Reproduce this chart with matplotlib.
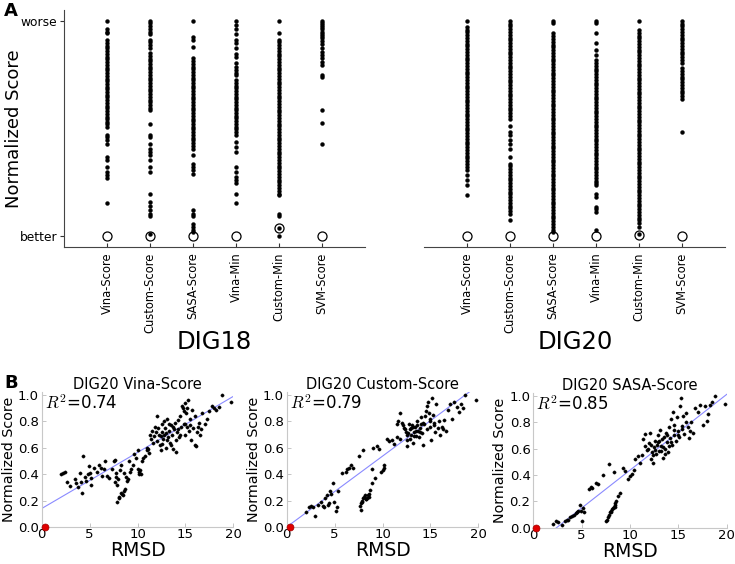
import matplotlib
matplotlib.use('Agg')
import matplotlib.pyplot as plt
import numpy as np

plt.rcParams['font.family'] = ['DejaVu Sans']
plt.rcParams['mathtext.fontset'] = 'cm'

# ---------------- Panel A data ----------------
methods = ['Vina-Score', 'Custom-Score', 'SASA-Score', 'Vina-Min', 'Custom-Min', 'SVM-Score']

d18_vina_score = [1.0, 0.964, 0.949, 0.941, 0.91, 0.897, 0.884, 0.872, 0.859, 0.846, 0.834, 0.821, 0.808, 0.796,
                  0.783, 0.77, 0.758, 0.745, 0.732, 0.72, 0.707, 0.694, 0.682, 0.669, 0.656, 0.644, 0.631, 0.618,
                  0.606, 0.593, 0.58, 0.568, 0.555, 0.542, 0.53, 0.523, 0.508, 0.469, 0.461, 0.446, 0.43, 0.368,
                  0.353, 0.322, 0.299, 0.283, 0.268, 0.156]
d18_custom_score = [1.0, 0.988, 0.975, 0.962, 0.95, 0.937, 0.912, 0.9, 0.887, 0.874, 0.85, 0.837, 0.824, 0.812,
                    0.799, 0.786, 0.774, 0.761, 0.748, 0.736, 0.723, 0.71, 0.698, 0.685, 0.672, 0.66, 0.647, 0.634,
                    0.622, 0.609, 0.596, 0.585, 0.523, 0.469, 0.461, 0.427, 0.407, 0.392, 0.376, 0.353, 0.322, 0.299,
                    0.198, 0.159, 0.139, 0.121, 0.105, 0.093, 0.012]
d18_sasa_score = [1.0, 0.926, 0.913, 0.879, 0.825, 0.812, 0.8, 0.787, 0.774, 0.762, 0.749, 0.736, 0.724, 0.711,
                  0.698, 0.686, 0.673, 0.66, 0.648, 0.635, 0.622, 0.61, 0.597, 0.584, 0.572, 0.559, 0.546, 0.534,
                  0.521, 0.508, 0.496, 0.483, 0.47, 0.458, 0.445, 0.432, 0.42, 0.407, 0.376, 0.337, 0.322, 0.307,
                  0.291, 0.121, 0.105, 0.093, 0.056, 0.043, 0.031, 0.02]
d18_vina_min = [1.0, 0.98, 0.96, 0.937, 0.913, 0.895, 0.875, 0.848, 0.83, 0.802, 0.786, 0.771, 0.758, 0.748, 0.724,
                0.711, 0.699, 0.686, 0.673, 0.661, 0.648, 0.635, 0.623, 0.61, 0.597, 0.585, 0.572, 0.559, 0.547,
                0.534, 0.521, 0.509, 0.496, 0.483, 0.469, 0.438, 0.415, 0.392, 0.322, 0.299, 0.276, 0.26, 0.248,
                0.198, 0.156]
d18_custom_min = [1.0, 0.941, 0.913, 0.9, 0.887, 0.874, 0.861, 0.848, 0.835, 0.822, 0.809, 0.796, 0.783, 0.77,
                  0.757, 0.744, 0.731, 0.718, 0.705, 0.692, 0.679, 0.666, 0.653, 0.64, 0.627, 0.614, 0.601, 0.588,
                  0.575, 0.562, 0.549, 0.536, 0.523, 0.51, 0.497, 0.484, 0.471, 0.458, 0.445, 0.432, 0.419, 0.406,
                  0.393, 0.38, 0.367, 0.354, 0.341, 0.328, 0.315, 0.302, 0.289, 0.276, 0.263, 0.25, 0.237, 0.224,
                  0.211, 0.198, 0.19, 0.105, 0.093, 0.039, 0.0]
d18_svm_score = [1.0, 0.99, 0.98, 0.97, 0.96, 0.95, 0.94, 0.93, 0.918, 0.905, 0.89, 0.872, 0.856, 0.84, 0.825,
                 0.81, 0.794, 0.748, 0.74, 0.588, 0.526, 0.426]
d18_native = [0.0, 0.0, 0.0, 0.0, 0.039, 0.0]

d20_vina_score = [1.0, 0.972, 0.959, 0.946, 0.933, 0.92, 0.907, 0.894, 0.881, 0.868, 0.855, 0.842, 0.829, 0.816,
                  0.803, 0.79, 0.777, 0.764, 0.751, 0.738, 0.725, 0.712, 0.699, 0.686, 0.673, 0.66, 0.647, 0.634,
                  0.621, 0.608, 0.595, 0.582, 0.569, 0.556, 0.543, 0.53, 0.517, 0.504, 0.491, 0.478, 0.465, 0.452,
                  0.439, 0.426, 0.413, 0.4, 0.387, 0.374, 0.361, 0.348, 0.335, 0.322, 0.307, 0.283, 0.26, 0.237,
                  0.19]
d20_custom_score = [1.0, 0.987, 0.974, 0.961, 0.948, 0.935, 0.922, 0.909, 0.896, 0.883, 0.87, 0.857, 0.844, 0.831,
                    0.818, 0.805, 0.792, 0.779, 0.766, 0.753, 0.74, 0.727, 0.714, 0.701, 0.688, 0.675, 0.662, 0.649,
                    0.636, 0.623, 0.61, 0.597, 0.584, 0.571, 0.558, 0.546, 0.511, 0.485, 0.469, 0.446, 0.427, 0.407,
                    0.368, 0.337, 0.324, 0.311, 0.298, 0.285, 0.272, 0.259, 0.246, 0.233, 0.22, 0.207, 0.194, 0.181,
                    0.168, 0.155, 0.142, 0.129, 0.116, 0.105, 0.077]
d20_sasa_score = [1.0, 0.988, 0.941, 0.928, 0.915, 0.902, 0.889, 0.876, 0.863, 0.85, 0.837, 0.824, 0.811, 0.798,
                  0.785, 0.772, 0.759, 0.746, 0.733, 0.72, 0.707, 0.694, 0.681, 0.668, 0.655, 0.642, 0.629, 0.616,
                  0.603, 0.59, 0.577, 0.564, 0.551, 0.538, 0.525, 0.512, 0.499, 0.486, 0.473, 0.46, 0.447, 0.434,
                  0.421, 0.408, 0.395, 0.382, 0.369, 0.356, 0.343, 0.33, 0.317, 0.304, 0.291, 0.278, 0.265, 0.252,
                  0.239, 0.226, 0.213, 0.2, 0.187, 0.174, 0.161, 0.148, 0.135, 0.122, 0.109, 0.096, 0.083, 0.07,
                  0.057, 0.044, 0.031, 0.018]
d20_vina_min = [1.0, 0.988, 0.944, 0.895, 0.864, 0.84, 0.817, 0.804, 0.791, 0.778, 0.765, 0.752, 0.739, 0.726,
                0.713, 0.7, 0.687, 0.674, 0.661, 0.648, 0.635, 0.622, 0.609, 0.596, 0.583, 0.57, 0.557, 0.544, 0.531,
                0.518, 0.505, 0.492, 0.479, 0.466, 0.453, 0.44, 0.427, 0.414, 0.401, 0.388, 0.375, 0.362, 0.349,
                0.336, 0.323, 0.31, 0.297, 0.284, 0.271, 0.258, 0.245, 0.237, 0.198, 0.183, 0.136, 0.125, 0.113,
                0.028]
d20_custom_min = [1.0, 0.957, 0.944, 0.931, 0.918, 0.905, 0.892, 0.879, 0.866, 0.853, 0.84, 0.827, 0.814, 0.801,
                  0.788, 0.775, 0.762, 0.749, 0.736, 0.723, 0.71, 0.697, 0.684, 0.671, 0.658, 0.645, 0.632, 0.619,
                  0.606, 0.593, 0.58, 0.567, 0.554, 0.541, 0.528, 0.515, 0.502, 0.489, 0.476, 0.463, 0.45, 0.437,
                  0.424, 0.411, 0.398, 0.385, 0.372, 0.359, 0.346, 0.333, 0.32, 0.307, 0.294, 0.281, 0.268, 0.255,
                  0.242, 0.229, 0.216, 0.203, 0.19, 0.177, 0.164, 0.151, 0.138, 0.125, 0.112, 0.099, 0.086, 0.073,
                  0.06, 0.043, 0.012]
d20_svm_score = [1.0, 0.987, 0.974, 0.961, 0.948, 0.935, 0.922, 0.909, 0.896, 0.883, 0.87, 0.857, 0.844, 0.831,
                 0.818, 0.805, 0.78, 0.767, 0.754, 0.741, 0.728, 0.715, 0.702, 0.689, 0.676, 0.663, 0.65, 0.637,
                 0.485]
d20_native = [0.0, 0.0, 0.0, 0.0, 0.008, 0.0]

# ---------------- Panel B data ----------------
b_vina_rmsd = [2.0, 2.2, 2.4, 2.6, 3.0, 3.5, 3.6, 3.8, 4.0, 4.1, 4.2, 4.3, 4.5, 4.6, 4.8, 4.9, 5.0, 5.1, 5.1, 5.5,
               6.0, 6.2, 6.5, 6.6, 6.8, 7.0, 7.3, 7.5, 7.6, 7.7, 7.8, 7.9, 8.0, 7.9, 8.1, 8.2, 8.3, 8.4, 8.5, 8.6,
               8.7, 8.6, 8.8, 8.9, 9.0, 9.1, 9.3, 9.5, 9.6, 9.8, 10.0, 10.1, 10.2, 10.3, 10.5, 10.6, 10.8, 11.0,
               11.1, 11.2, 11.4, 11.5, 11.6, 11.7, 11.8, 12.0, 12.0, 12.2, 12.3, 12.4, 12.5, 12.6, 12.7, 12.8, 12.9,
               13.0, 13.0, 13.1, 13.2, 13.3, 13.4, 13.5, 13.6, 13.7, 13.8, 13.9, 14.0, 14.0, 14.1, 14.2, 14.3,
               14.4, 14.5, 14.6, 14.7, 14.8, 14.9, 15.0, 15.0, 15.1, 15.2, 15.3, 15.4, 15.5, 15.6, 15.7, 15.8,
               16.0, 16.0, 16.2, 16.4, 16.5, 16.7, 17.0, 17.2, 17.5, 17.8, 18.0, 18.2, 18.5, 18.8, 19.8,
               11.3, 11.9, 12.1, 12.4, 12.6, 12.8, 13.1, 13.3, 13.5, 13.7, 14.2, 14.4, 14.8, 15.2, 15.5, 16.1,
               16.3, 16.6, 10.4, 10.0, 9.2, 6.3, 5.8, 11.0, 7.6, 8.1, 8.3]
b_vina_score = [0.40, 0.41, 0.42, 0.34, 0.31, 0.36, 0.33, 0.30, 0.41, 0.34, 0.26, 0.54, 0.38, 0.35, 0.40, 0.46,
                0.41, 0.37, 0.32, 0.45, 0.47, 0.45, 0.44, 0.50, 0.39, 0.37, 0.44, 0.50, 0.51, 0.41, 0.38, 0.32,
                0.36, 0.19, 0.22, 0.43, 0.47, 0.25, 0.24, 0.27, 0.29, 0.41, 0.38, 0.35, 0.36, 0.50, 0.44, 0.47,
                0.55, 0.52, 0.58, 0.42, 0.40, 0.43, 0.50, 0.52, 0.54, 0.60, 0.59, 0.56, 0.67, 0.73, 0.64, 0.69,
                0.76, 0.65, 0.84, 0.70, 0.62, 0.58, 0.78, 0.72, 0.67, 0.80, 0.75, 0.71, 0.60, 0.82, 0.68, 0.73,
                0.64, 0.77, 0.70, 0.59, 0.74, 0.79, 0.66, 0.57, 0.72, 0.81, 0.68, 0.84, 0.76, 0.92, 0.90, 0.88,
                0.94, 0.78, 0.70, 0.86, 0.76, 0.96, 0.73, 0.82, 0.66, 0.89, 0.75, 0.62, 0.84, 0.72, 0.79, 0.70,
                0.86, 0.78, 0.82, 0.88, 0.92, 0.90, 0.89, 0.91, 1.00, 0.95,
                0.70, 0.72, 0.75, 0.69, 0.63, 0.70, 0.66, 0.78, 0.62, 0.76, 0.74, 0.70, 0.78, 0.90, 0.77, 0.61,
                0.76, 0.74, 0.40, 0.44, 0.42, 0.39, 0.42, 0.58, 0.34, 0.23, 0.26]
b_vina_fit = (0.0425, 0.14)   # slope, intercept

b_custom_rmsd = [2.0, 2.3, 2.5, 2.7, 3.0, 3.3, 3.6, 3.8, 4.0, 4.2, 4.3, 4.5, 4.6, 4.8, 4.9, 5.1, 5.2, 5.3, 5.8, 6.2,
                 6.5, 6.7, 6.9, 7.5, 8.0, 7.6, 7.7, 7.8, 7.9, 8.0, 8.1, 8.2, 8.3, 8.4, 8.5, 8.6, 8.7, 8.9, 9.2, 8.9,
                 9.0, 9.4, 9.6, 9.8, 10.0, 10.1, 10.2, 10.5, 10.7, 11.0, 11.2, 11.5, 11.8, 11.5, 11.6, 11.8, 12.0,
                 12.2, 12.4, 12.5, 12.6, 12.8, 12.9, 13.0, 13.1, 13.2, 13.3, 13.4, 13.5, 13.6, 13.7, 13.8, 13.9,
                 14.0, 14.1, 14.2, 14.3, 14.4, 14.5, 14.6, 14.7, 14.8, 14.9, 15.0, 15.1, 15.2, 15.3, 15.4, 15.5,
                 15.6, 15.8, 16.0, 16.2, 16.4, 16.6, 16.8, 17.0, 17.2, 17.5, 17.8, 18.0, 18.2, 18.4, 18.6, 19.8,
                 12.1, 12.3, 12.7, 13.0, 13.3, 13.6, 13.9, 14.2, 14.6, 15.0, 15.4, 15.9, 16.3, 12.9, 13.5, 14.0,
                 12.5, 13.2, 7.9, 8.3, 8.6, 6.3, 4.4, 3.9]
b_custom_score = [0.11, 0.15, 0.16, 0.15, 0.08, 0.17, 0.19, 0.16, 0.22, 0.24, 0.17, 0.27, 0.25, 0.33, 0.19, 0.12,
                  0.15, 0.27, 0.41, 0.42, 0.45, 0.47, 0.45, 0.54, 0.58, 0.16, 0.13, 0.18, 0.20, 0.22, 0.23, 0.24,
                  0.21, 0.22, 0.24, 0.25, 0.28, 0.33, 0.37, 0.44, 0.60, 0.61, 0.59, 0.42, 0.43, 0.45, 0.47, 0.67,
                  0.65, 0.66, 0.63, 0.68, 0.67, 0.78, 0.80, 0.86, 0.79, 0.75, 0.72, 0.61, 0.66, 0.78, 0.74, 0.70,
                  0.77, 0.64, 0.72, 0.76, 0.69, 0.80, 0.73, 0.68, 0.75, 0.83, 0.71, 0.62, 0.78, 0.84, 0.88, 0.92,
                  0.95, 0.86, 0.80, 0.76, 0.66, 0.98, 0.85, 0.79, 0.72, 0.93, 0.75, 0.70, 0.76, 0.81, 0.73, 0.89,
                  0.93, 0.82, 0.95, 0.91, 0.87, 0.93, 0.90, 1.00, 0.96,
                  0.77, 0.74, 0.71, 0.75, 0.69, 0.77, 0.72, 0.79, 0.74, 0.82, 0.77, 0.80, 0.74, 0.67, 0.73, 0.78,
                  0.70, 0.76, 0.19, 0.21, 0.23, 0.44, 0.18, 0.15]
b_custom_fit = (0.0537, 0.0)

b_sasa_rmsd = [2.0, 2.3, 2.6, 3.0, 3.3, 3.6, 3.8, 4.0, 4.2, 4.4, 4.6, 4.8, 4.9, 5.0, 5.1, 5.2, 5.8, 6.1, 6.5, 6.7,
               7.2, 7.8, 8.3, 7.6, 7.7, 7.8, 7.9, 8.0, 8.1, 8.2, 8.3, 8.4, 8.5, 8.6, 8.8, 9.0, 9.3, 9.5, 9.8, 10.0,
               10.2, 10.4, 10.5, 10.8, 11.0, 11.2, 11.3, 11.5, 11.6, 11.8, 12.0, 12.1, 12.2, 12.3, 12.4, 12.5,
               12.6, 12.7, 12.8, 12.9, 13.0, 13.1, 13.2, 13.3, 13.4, 13.5, 13.6, 13.7, 13.8, 13.9, 14.0, 14.1,
               14.2, 14.3, 14.4, 14.5, 14.6, 14.8, 14.9, 15.0, 15.1, 15.2, 15.3, 15.4, 15.5, 15.6, 15.8, 16.0,
               16.1, 16.3, 16.5, 16.7, 17.0, 17.2, 17.5, 17.8, 18.0, 18.1, 18.3, 18.5, 18.8, 19.8,
               11.9, 12.2, 12.6, 13.0, 13.4, 13.8, 14.2, 14.6, 15.0, 15.4, 15.8, 16.2, 12.4, 13.2, 14.0, 12.9,
               13.6, 7.5, 8.0, 8.4, 6.0, 4.5, 3.5]
b_sasa_score = [0.03, 0.05, 0.04, 0.02, 0.05, 0.06, 0.08, 0.09, 0.10, 0.11, 0.13, 0.17, 0.13, 0.05, 0.15, 0.12,
                0.29, 0.30, 0.34, 0.33, 0.40, 0.48, 0.42, 0.06, 0.08, 0.10, 0.12, 0.13, 0.14, 0.15, 0.16, 0.17,
                0.19, 0.20, 0.24, 0.26, 0.45, 0.43, 0.37, 0.39, 0.41, 0.44, 0.52, 0.54, 0.49, 0.55, 0.67, 0.71,
                0.62, 0.59, 0.64, 0.72, 0.52, 0.57, 0.49, 0.61, 0.66, 0.56, 0.63, 0.70, 0.58, 0.74, 0.62, 0.67,
                0.53, 0.69, 0.60, 0.72, 0.65, 0.57, 0.76, 0.68, 0.82, 0.63, 0.88, 0.70, 0.78, 0.66, 0.84, 0.73,
                0.69, 0.92, 0.98, 0.77, 0.85, 0.71, 0.87, 0.76, 0.68, 0.80, 0.72, 0.91, 0.88, 0.93, 0.78, 0.92,
                0.81, 0.86, 0.93, 0.95, 1.00, 0.94,
                0.60, 0.63, 0.59, 0.66, 0.61, 0.70, 0.65, 0.74, 0.70, 0.75, 0.80, 0.73, 0.55, 0.58, 0.62, 0.65,
                0.56, 0.05, 0.12, 0.16, 0.31, 0.12, 0.06]
b_sasa_fit = (0.0574, -0.138)

native_rmsd = 0.3
native_score = 0.0

# ---------------- Figure ----------------
W, H = 735, 564
fig = plt.figure(figsize=(W / 100, H / 100), dpi=100)
fig.patch.set_facecolor('white')


def px_axes(left, top, right, bottom):
    return fig.add_axes([left / W, 1 - bottom / H, (right - left) / W, (bottom - top) / H])


def panel_a(ax, columns, native, show_y):
    for i, vals in enumerate(columns):
        ax.plot(np.full(len(vals), i + 1), vals, 'o', ms=2.8, color='black', mec='black', mew=0.3,
                clip_on=False, zorder=3)
        ax.plot(i + 1, native[i], 'o', ms=6.5, mfc='none', mec='black', mew=0.9, clip_on=False, zorder=4)
    ax.set_xlim(0, 7)
    ax.set_ylim(-0.05, 1.05)
    ax.set_xticks(range(1, 7))
    ax.set_xticklabels(methods, rotation=90, fontsize=8.3)
    ax.tick_params(axis='x', direction='in', length=3, width=0.8, pad=4, color='#333333')
    ax.spines['top'].set_visible(False)
    ax.spines['right'].set_visible(False)
    ax.spines['bottom'].set_color('#444444')
    if show_y:
        ax.set_yticks([0, 1])
        ax.set_yticklabels(['better', 'worse'], fontsize=8.8)
        ax.tick_params(axis='y', direction='out', length=3, width=0.8, pad=2, color='#333333')
        ax.spines['left'].set_color('#444444')
        ax.set_ylabel('Normalized Score', fontsize=13)
        ax.yaxis.set_label_coords(-0.135, 0.5)
    else:
        ax.spines['left'].set_visible(False)
        ax.set_yticks([])


axA1 = px_axes(64, 10, 365, 247)
panel_a(axA1, [d18_vina_score, d18_custom_score, d18_sasa_score, d18_vina_min, d18_custom_min, d18_svm_score],
        d18_native, True)
axA2 = px_axes(424, 10, 725, 247)
panel_a(axA2, [d20_vina_score, d20_custom_score, d20_sasa_score, d20_vina_min, d20_custom_min, d20_svm_score],
        d20_native, False)

fig.text(214 / W, 1 - 342 / H, 'DIG18', fontsize=17.5, ha='center', va='center')
fig.text(575 / W, 1 - 342 / H, 'DIG20', fontsize=17.5, ha='center', va='center')
fig.text(4 / W, 1 - 2 / H, 'A', fontsize=13, fontweight='bold', ha='left', va='top')
fig.text(4 / W, 1 - 374 / H, 'B', fontsize=13, fontweight='bold', ha='left', va='top')


def panel_b(ax, x, y, fit, title, r2):
    ax.plot(x, y, 'o', ms=2.4, color='black', mec='black', mew=0.2, zorder=3)
    xl = np.array([0.0, 20.0])
    ax.plot(xl, fit[1] + fit[0] * xl, color='#8a8aff', lw=0.8, zorder=2)
    ax.plot(native_rmsd, native_score, 'o', ms=5, color='#e00000', mec='#a00000', mew=0.5, clip_on=False,
            zorder=5)
    ax.set_xlim(0, 20)
    ax.set_ylim(0, 1.02)
    ax.set_xticks([0, 5, 10, 15, 20])
    ax.set_yticks([0, 0.2, 0.4, 0.6, 0.8, 1.0])
    ax.set_yticklabels(['0.0', '0.2', '0.4', '0.6', '0.8', '1.0'])
    ax.tick_params(direction='in', length=3, width=0.6, color='#bbbbbb', labelsize=9.5)
    ax.tick_params(axis='x', pad=1)
    ax.tick_params(axis='y', pad=2)
    for s in ['top', 'right']:
        ax.spines[s].set_visible(False)
    for s in ['left', 'bottom']:
        ax.spines[s].set_color('#c8c8c8')
        ax.spines[s].set_linewidth(0.8)
    ax.set_title(title, fontsize=10.5, pad=2)
    ax.set_ylabel('Normalized Score', fontsize=10.3)
    ax.yaxis.set_label_coords(-0.135, 0.5)
    ax.set_xlabel('RMSD', fontsize=13.5)
    ax.xaxis.set_label_coords(0.5, -0.105)
    ax.text(0.3, 0.895, r'$R^2$=' + r2, fontsize=12, va='baseline', ha='left')


axB1 = px_axes(41.7, 527 - 1.02 * 132, 233.4, 527)
panel_b(axB1, b_vina_rmsd, b_vina_score, b_vina_fit, 'DIG20 Vina-Score', '0.74')
axB2 = px_axes(286.7, 527 - 1.02 * 132, 478.4, 527)
panel_b(axB2, b_custom_rmsd, b_custom_score, b_custom_fit, 'DIG20 Custom-Score', '0.79')
axB3 = px_axes(533.3, 527.7 - 1.02 * 132, 726.7, 527.7)
panel_b(axB3, b_sasa_rmsd, b_sasa_score, b_sasa_fit, 'DIG20 SASA-Score', '0.85')

fig.savefig('out.png', dpi=100, facecolor='white')
